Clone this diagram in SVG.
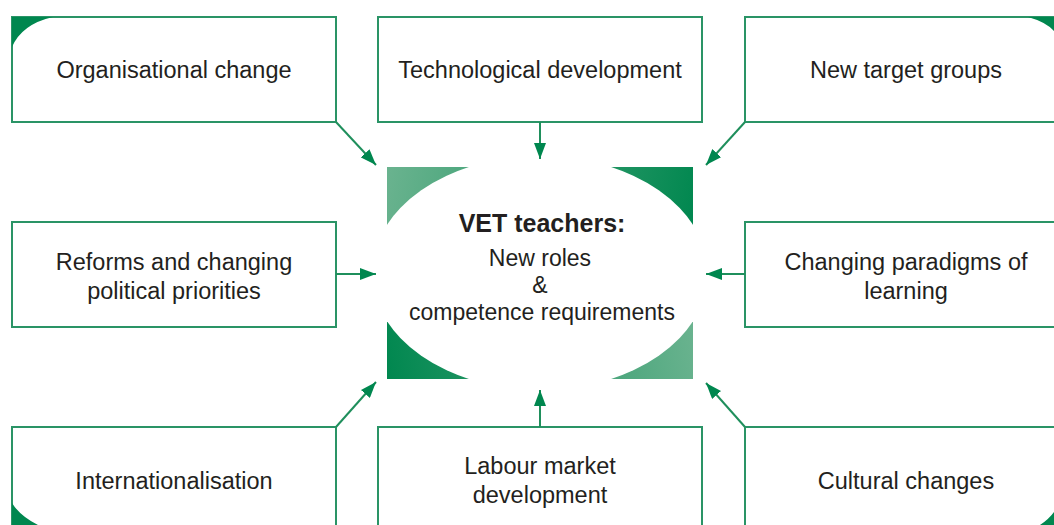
<svg xmlns="http://www.w3.org/2000/svg" width="1054" height="525" viewBox="0 0 1054 525">
<style>
.box{fill:#fff;stroke:#2a9466;stroke-width:2}
.t{font-family:"Liberation Sans",Arial,sans-serif;font-size:23.5px;fill:#231f20;text-anchor:middle}
.m{font-size:23px}
.b{font-weight:bold;font-size:25px}
.c{fill:none;stroke:#1f8f5c;stroke-width:2}
.g{fill:#00874f}
</style>
<defs>
<marker id="ah" viewBox="0 0 16 12" refX="16" refY="6" markerWidth="16" markerHeight="12" markerUnits="userSpaceOnUse" orient="auto">
<path d="M0,0 L16,6 L0,12 Z" fill="#00874f"/>
</marker>
<linearGradient id="gt" gradientUnits="userSpaceOnUse" x1="387" y1="167" x2="693" y2="230">
<stop offset="0" stop-color="#6ab38f"/><stop offset="1" stop-color="#00874f"/>
</linearGradient>
<linearGradient id="gb" gradientUnits="userSpaceOnUse" x1="387" y1="379" x2="693" y2="320">
<stop offset="0" stop-color="#00874f"/><stop offset="1" stop-color="#6ab38f"/>
</linearGradient>
<clipPath id="cc"><rect x="387" y="167" width="306" height="212"/></clipPath>
</defs>
<rect width="1054" height="525" fill="#fff"/>

<g id="n1"><rect class="box" x="12" y="17" width="324" height="105"/><path class="g" d="M12,17 H53 Q22,24 12,47 Z"/><text class="t" x="174" y="78">Organisational change</text></g>
<g id="n2"><rect class="box" x="378" y="17" width="324" height="105"/><text class="t" x="540" y="78">Technological development</text></g>
<g id="n3"><rect class="box" x="745" y="17" width="330" height="105"/><path class="g" d="M1054,17 H1028 Q1046,22 1054,31 Z"/><text class="t" x="906" y="78">New target groups</text></g>
<g id="n4"><rect class="box" x="12" y="222" width="324" height="105"/><text class="t" x="174" y="270">Reforms and changing</text><text class="t" x="174" y="299">political priorities</text></g>
<g id="n5"><rect class="box" x="745" y="222" width="330" height="105"/><text class="t" x="906" y="270">Changing paradigms of</text><text class="t" x="906" y="299">learning</text></g>
<g id="n6"><rect class="box" x="12" y="427" width="324" height="110"/><path class="g" d="M12,525 H38 Q20,516 12,503 Z"/><text class="t" x="174" y="489">Internationalisation</text></g>
<g id="n7"><rect class="box" x="378" y="427" width="324" height="110"/><text class="t" x="540" y="474">Labour market</text><text class="t" x="540" y="503">development</text></g>
<g id="n8"><rect class="box" x="745" y="427" width="330" height="110"/><path class="g" d="M1054,525 H1040 Q1049,519 1054,512 Z"/><text class="t" x="906" y="489">Cultural changes</text></g>

<g id="center">
<g clip-path="url(#cc)">
<rect x="387" y="167" width="306" height="106" fill="url(#gt)"/>
<rect x="387" y="273" width="306" height="106" fill="url(#gb)"/>
<ellipse cx="540" cy="273" rx="168" ry="117" fill="#fff"/>
</g>
<text class="t b" x="542" y="232">VET teachers:</text>
<text class="t m" x="540" y="266">New roles</text>
<text class="t m" x="540" y="293">&amp;</text>
<text class="t m" x="542" y="320">competence requirements</text>
</g>

<g id="connectors">
<line class="c" x1="336" y1="122" x2="376" y2="165" marker-end="url(#ah)"/>
<line class="c" x1="540" y1="122" x2="540" y2="159" marker-end="url(#ah)"/>
<line class="c" x1="745" y1="122" x2="706" y2="165" marker-end="url(#ah)"/>
<line class="c" x1="336" y1="274" x2="376" y2="274" marker-end="url(#ah)"/>
<line class="c" x1="745" y1="274" x2="706" y2="274" marker-end="url(#ah)"/>
<line class="c" x1="336" y1="427" x2="376" y2="382" marker-end="url(#ah)"/>
<line class="c" x1="540" y1="427" x2="540" y2="390" marker-end="url(#ah)"/>
<line class="c" x1="745" y1="427" x2="706" y2="383" marker-end="url(#ah)"/>
</g>
</svg>
